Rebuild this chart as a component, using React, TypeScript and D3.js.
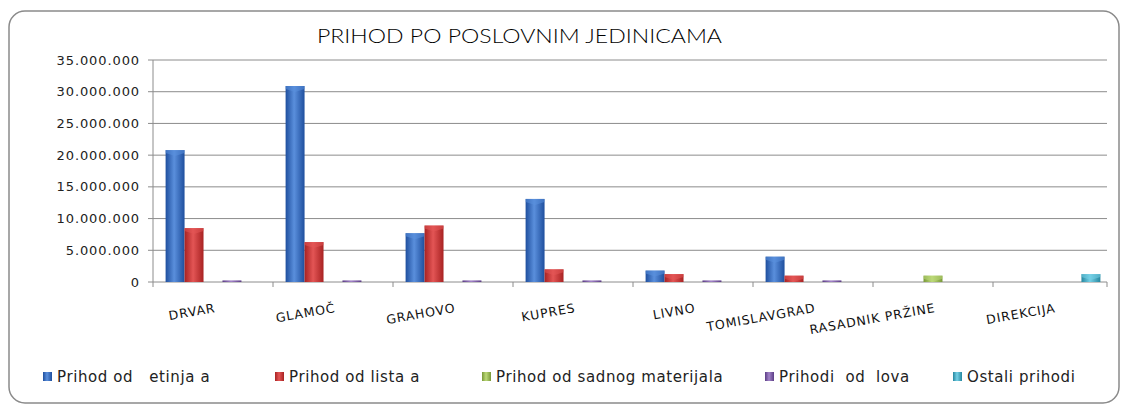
import * as d3 from 'd3';

// jedinice (kategorije)
const units = ['DRVAR', 'GLAMOČ', 'GRAHOVO', 'KUPRES', 'LIVNO', 'TOMISLAVGRAD', 'RASADNIK PRŽINE', 'DIREKCIJA'];

// serije
const seriesNames = ['Prihod od   etinja a', 'Prihod od lista a', 'Prihod od sadnog materijala', 'Prihodi  od  lova', 'Ostali prihodi'];

const cetinjaca = [20800000, 30900000, 7700000, 13100000, 1800000, 4000000, 0, 0];
const lista = [8500000, 6300000, 8900000, 2000000, 1250000, 1000000, 0, 0];
const sadni = [0, 0, 0, 0, 0, 0, 1000000, 0];
const lov = [250000, 250000, 250000, 250000, 250000, 250000, 0, 0];
const ostali = [0, 0, 0, 0, 0, 0, 0, 1250000];

const yTicks = [0, 5000000, 10000000, 15000000, 20000000, 25000000, 30000000, 35000000];

const seriesValues = [cetinjaca, lista, sadni, lov, ostali];

// boje: [tamna, svijetla]
const colors = [
  ['#1f4f9e', '#5a8fdc'],
  ['#a82222', '#e35555'],
  ['#789838', '#bcd978'],
  ['#5b3d85', '#a283c8'],
  ['#26879f', '#74d0e6'],
];

const legendX = [43, 275, 482, 765, 953];

const W = 1122;
const H = 404;
const margin = { top: 60, right: 9, bottom: 122, left: 153 };

const fmt = (v: number) => (v === 0 ? '0' : d3.format(',')(v).replace(/,/g, '.'));

export default function App() {
  const x0 = d3.scaleBand<string>().domain(units).range([margin.left, W - margin.right]).padding(0);
  const bw = x0.bandwidth();
  const gap = bw * 0.105;
  const x1 = d3.scaleBand<number>().domain(d3.range(seriesNames.length)).range([gap, bw - gap]).padding(0);
  const y = d3.scaleLinear().domain([0, 35000000]).range([H - margin.bottom, margin.top]);

  const y0 = y(0);
  const xEnd = W - margin.right;

  return (
    <svg width={W} height={H} style={{ position: 'absolute', left: 0, top: 0 }}>
      <defs>
        {colors.map((c, i) => (
          <linearGradient key={i} id={`g${i}`} x1="0" x2="1" y1="0" y2="0">
            <stop offset="0%" stopColor={c[0]} />
            <stop offset="45%" stopColor={c[1]} />
            <stop offset="100%" stopColor={c[0]} />
          </linearGradient>
        ))}
      </defs>
      <rect x={9} y={11} width={1110} height={392} rx={16} fill="#fff" stroke="#8a8a8a" strokeWidth={1.5} />

      <text x={317} y={43} fontFamily="Lato" fontWeight={300} fontSize={20.5} fill="#000" textLength={405} lengthAdjust="spacingAndGlyphs">
        PRIHOD PO POSLOVNIM JEDINICAMA
      </text>

      {/* mreža i y os */}
      {yTicks.map((t) => (
        <g key={t}>
          <line x1={margin.left - 5} x2={xEnd - 6} y1={y(t)} y2={y(t)} stroke="#8c8c8c" strokeWidth={1} />
          <text x={140} y={y(t)} dy="0.35em" textAnchor="end" fontFamily="DejaVu Sans" fontSize={13} letterSpacing={0.9} fill="#222">
            {fmt(t)}
          </text>
        </g>
      ))}
      <line x1={margin.left} x2={margin.left} y1={y(35000000)} y2={y0} stroke="#8c8c8c" strokeWidth={1} />

      {/* x os kvačice */}
      {units.map((u) => (
        <line key={u} x1={x0(u)} x2={x0(u)} y1={y0} y2={y0 + 5} stroke="#8c8c8c" />
      ))}
      <line x1={xEnd - 6} x2={xEnd - 6} y1={y0} y2={y0 + 5} stroke="#8c8c8c" />

      {/* stupci */}
      {units.map((u, ui) => (
        <g key={u} transform={`translate(${x0(u)},0)`}>
          {seriesValues.map((vals, si) => {
            const v = vals[ui];
            if (!v) return null;
            const bx = x1(si)!;
            const w = x1.bandwidth();
            const top = y(v);
            const h = y0 - top;
            return (
              <g key={si}>
                <rect x={bx} y={top} width={w} height={h} fill={`url(#g${si})`} />
                {h > 6 && (
                  <path
                    d={`M${bx},${top}L${bx + w},${top}L${bx + w},${top + 3}L${bx + w / 2},${top + 6}L${bx},${top + 3}Z`}
                    fill={colors[si][1]}
                    opacity={0.55}
                  />
                )}
              </g>
            );
          })}
        </g>
      ))}

      {/* x oznake */}
      {units.map((u) => {
        const cx = x0(u)! + bw / 2 + 3;
        return (
          <text
            key={u}
            x={cx}
            y={312}
            textAnchor="end"
            transform={`rotate(-10,${cx},312)`}
            fontFamily="DejaVu Sans"
            fontSize={12.5}
            letterSpacing={0.9}
            fill="#111"
          >
            {u}
          </text>
        );
      })}

      {/* legenda */}
      {seriesNames.map((s, i) => (
        <g key={s} transform={`translate(${legendX[i]},372)`}>
          <rect x={0} y={0} width={9} height={9} fill={`url(#g${i})`} />
          <text x={14} y={10} fontFamily="DejaVu Sans" fontSize={15} letterSpacing={0.6} fill="#222" style={{ whiteSpace: 'pre' }}>
            {s}
          </text>
        </g>
      ))}
    </svg>
  );
}
